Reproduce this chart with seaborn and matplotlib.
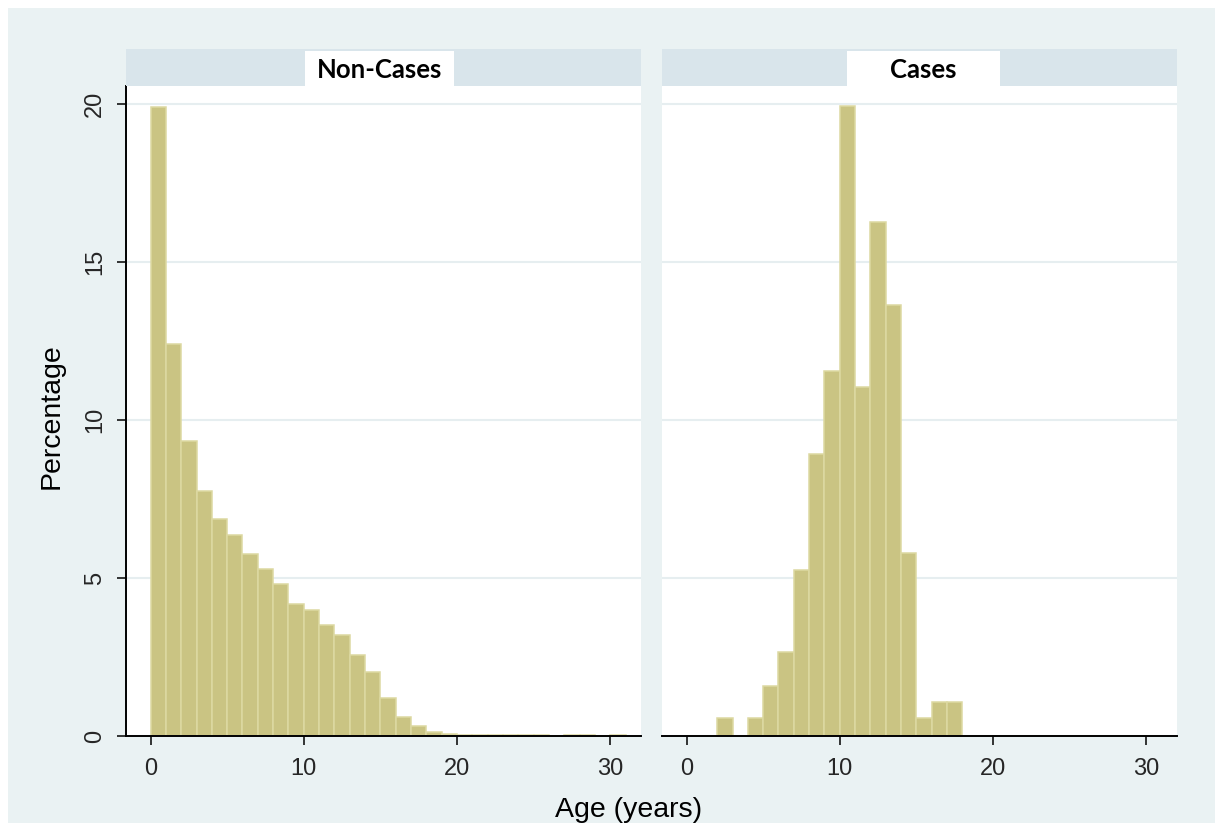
import numpy as np
import pandas as pd
import matplotlib
matplotlib.use("Agg")
import matplotlib.pyplot as plt
import seaborn as sns
from matplotlib.patches import Rectangle

# ---------------- data ----------------
bin_edges = list(range(0, 32))          # 1-year bins, 0..31
noncases_pct = [19.90, 12.40, 9.34, 7.75, 6.86, 6.37, 5.76, 5.27, 4.81, 4.17,
                3.99, 3.50, 3.21, 2.56, 2.02, 1.21, 0.61, 0.33, 0.14, 0.07,
                0.04, 0.04, 0.04, 0.04, 0.04, 0.04, 0.00, 0.04, 0.04, 0.00,
                0.04]
cases_pct = [0.00, 0.00, 0.56, 0.00, 0.56, 1.58, 2.65, 5.25, 8.91, 11.55,
             19.94, 11.03, 16.28, 13.63, 5.79, 0.56, 1.08, 1.08, 0.00, 0.00,
             0.00, 0.00, 0.00, 0.00, 0.00, 0.00, 0.00, 0.00, 0.00, 0.00,
             0.00]
panel_titles = ["Non-Cases", "Cases"]
x_ticks = [0, 10, 20, 30]
y_ticks = [0, 5, 10, 15, 20]
x_label = "Age (years)"
y_label = "Percentage"

# ---------------- style ----------------
W, H = 1215, 823
BG = "#EAF2F3"
STRIP = "#D9E5EB"
GRID = "#E6EEF0"
FILL = "#CAC483"
EDGE = "#DDD9A2"

sns.set_theme(style="white")
plt.rcParams['font.family'] = ['Liberation Sans', 'DejaVu Sans']

fig = plt.figure(figsize=(W / 100, H / 100), dpi=100)
fig.patch.set_facecolor("white")
fig.patches.append(Rectangle((8 / W, 0), 1 - 8 / W, 1 - 8 / H,
                             transform=fig.transFigure, facecolor=BG,
                             edgecolor="none", zorder=-10))

centers = [e + 0.5 for e in bin_edges[:-1]]
panels = [
    (126, 641, noncases_pct, panel_titles[0], (305, 454)),
    (662, 1177, cases_pct, panel_titles[1], (847, 1000)),
]

top_px, bot_px = 86, 736
for i, (x0, x1, vals, title, box) in enumerate(panels):
    ax = fig.add_axes([x0 / W, 1 - bot_px / H, (x1 - x0) / W, (bot_px - top_px) / H])
    ax.set_facecolor("white")
    df = pd.DataFrame({"age": centers, "pct": vals})
    sns.histplot(data=df, x="age", weights="pct", bins=bin_edges, ax=ax,
                 color=FILL, edgecolor=EDGE, linewidth=1.1, alpha=1.0)
    ax.set_xlim(-1.6, 32.0)
    ax.set_ylim(0, 20.57)
    ax.set_xticks(x_ticks)
    ax.set_xticklabels([str(t) for t in x_ticks])
    ax.set_yticks(y_ticks)
    ax.yaxis.grid(True, color=GRID, linewidth=1.5)
    ax.xaxis.grid(False)
    ax.set_axisbelow(True)
    ax.set_xlabel("")
    ax.set_ylabel("")
    for s in ["top", "right"]:
        ax.spines[s].set_visible(False)
    ax.spines["bottom"].set_color("black")
    ax.spines["bottom"].set_linewidth(1.4)
    ax.tick_params(axis="x", direction="out", length=6.5, width=1.1,
                   color="black", labelsize=17, pad=9, bottom=True)
    if i == 0:
        ax.spines["left"].set_color("black")
        ax.spines["left"].set_linewidth(1.4)
        ax.set_yticklabels([str(t) for t in y_ticks], rotation=90, va="center")
        ax.tick_params(axis="y", direction="out", length=6.5, width=1.1,
                       color="black", labelsize=17, pad=8, left=True)
    else:
        ax.spines["left"].set_visible(False)
        ax.tick_params(axis="y", left=False, labelleft=False)

    # strip
    fig.patches.append(Rectangle((x0 / W, 1 - 86 / H), (x1 - x0) / W, 37 / H,
                                 transform=fig.transFigure, facecolor=STRIP,
                                 edgecolor="none", zorder=1))
    fig.patches.append(Rectangle((box[0] / W, 1 - 86 / H), (box[1] - box[0]) / W, 35 / H,
                                 transform=fig.transFigure, facecolor="white",
                                 edgecolor="none", zorder=2))
    fig.text((box[0] + box[1]) / 2 / W, 1 - 70 / H, title, ha="center", va="center",
             fontsize=18.5, fontweight="bold", family=["Lato", "DejaVu Sans"],
             color="black", zorder=3)

fig.text(629 / W, 1 - 817 / H, x_label, ha="center", va="baseline", fontsize=20.5,
         color="black")
fig.text(52 / W, 1 - 416 / H, y_label, ha="center", va="center", fontsize=20.5,
         rotation=90, color="black")

fig.savefig("out.png", dpi=100, facecolor=fig.get_facecolor())
